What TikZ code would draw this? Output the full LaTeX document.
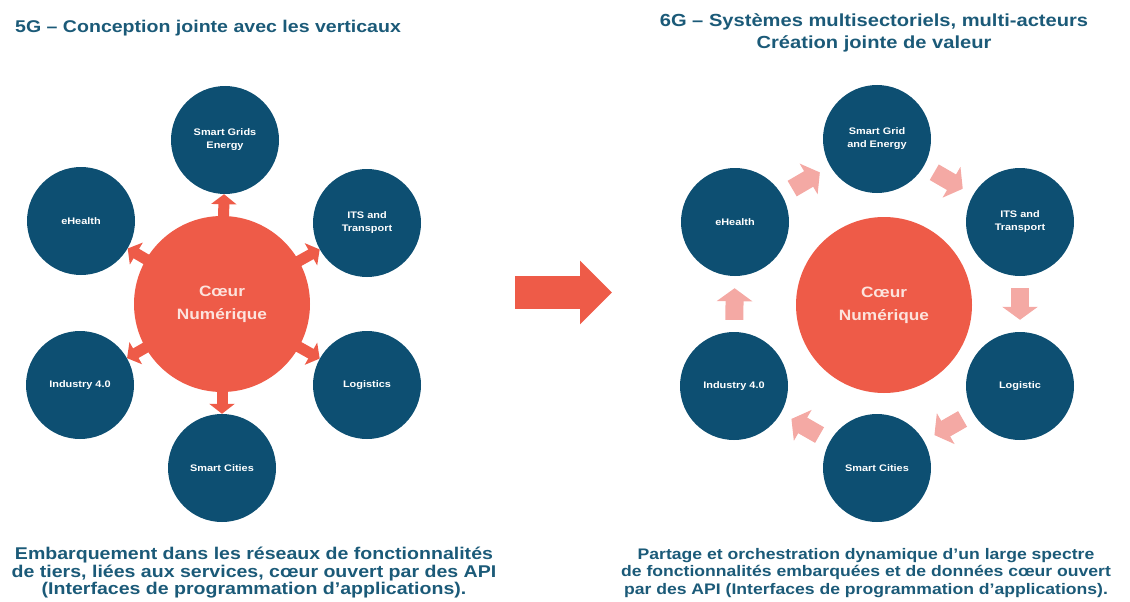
\documentclass[tikz,border=0pt]{standalone}
\usepackage{fontspec}
\setmainfont{Liberation Sans}[FakeStretch=1.15]
\usetikzlibrary{arrows.meta}
\pgfdeclarelayer{bg}
\pgfsetlayers{bg,main}
\definecolor{navy}{HTML}{0D4F72}
\definecolor{coral}{HTML}{EE5B48}
\definecolor{pinkar}{HTML}{F4A9A4}
\definecolor{titleblue}{HTML}{1B5A78}
\definecolor{coretext}{HTML}{FCE3DD}
\tikzset{
  core/.style={circle, fill=coral, minimum size=176pt, inner sep=0pt, text=coretext, align=center,
    font=\bfseries\fontsize{15}{23}\selectfont},
  sat/.style={circle, fill=navy, minimum size=108pt, inner sep=0pt, text=white, align=center,
    font=\bfseries\fontsize{9.5}{13}\selectfont},
  outarrow/.style={draw=coral, line width=11pt, -{Triangle[width=25pt,length=10pt]}, shorten <=-8pt},
  cyc/.style={draw=pinkar, line width=18pt, -{Triangle[width=35pt,length=13pt]}, shorten <=12pt, shorten >=12pt},
  bigarrow/.style={draw=coral, line width=33pt, -{Triangle[width=62pt,length=32pt]}},
  title/.style={text=titleblue, inner sep=0pt, font=\bfseries\fontsize{17.5}{22}\selectfont},
  bottomtext/.style={text=titleblue, inner sep=0pt, align=center, font=\bfseries\fontsize{17}{17.5}\selectfont}
}
\begin{document}
\begin{tikzpicture}[x=1pt,y=-1pt]
\useasboundingbox (0,0) rectangle (1130,602);

% titles
\node[title, anchor=west, font=\bfseries\fontsize{17}{22}\selectfont] (t1) at (15,28) {5G – Conception jointe avec les verticaux};
\node[title, align=center] (t2) at (874,33) {6G – Systèmes multisectoriels, multi-acteurs\\Création jointe de valeur};

% left diagram
\node[core] (L) at (222,304) {Cœur\\Numérique};
\node[sat] (Lsg) at (225,140) {Smart Grids\\Energy};
\node[sat] (Leh) at (81,221) {eHealth};
\node[sat] (Lits) at (367,223) {ITS and\\Transport};
\node[sat] (Lind) at (80,385) {Industry 4.0};
\node[sat] (Llog) at (367,385) {Logistics};
\node[sat] (Lsc) at (222,468) {Smart Cities};
\begin{pgfonlayer}{bg}
\draw[outarrow] (L) -- (Lsg);
\draw[outarrow] (L) -- (Leh);
\draw[outarrow] (L) -- (Lits);
\draw[outarrow] (L) -- (Lind);
\draw[outarrow] (L) -- (Llog);
\draw[outarrow] (L) -- (Lsc);
\end{pgfonlayer}

% big arrow
\coordinate (ba) at (515,292.5);
\coordinate (bb) at (612,292.5);
\draw[bigarrow] (ba) -- (bb);

% right diagram
\node[core] (R) at (884,305) {Cœur\\Numérique};
\node[sat] (Rsg) at (877,139) {Smart Grid\\and Energy};
\node[sat] (Reh) at (735,222) {eHealth};
\node[sat] (Rits) at (1020,222) {ITS and\\Transport};
\node[sat] (Rlog) at (1020,386) {Logistic};
\node[sat] (Rsc) at (877,468) {Smart Cities};
\node[sat] (Rind) at (734,386) {Industry 4.0};
\draw[cyc] (Reh) -- (Rsg);
\draw[cyc] (Rsg) -- (Rits);
\draw[cyc] (Rits) -- (Rlog);
\draw[cyc] (Rlog) -- (Rsc);
\draw[cyc] (Rsc) -- (Rind);
\draw[cyc] (Rind) -- (Reh);

% bottom texts
\node[bottomtext] (b1) at (254,573) {Embarquement dans les réseaux de fonctionnalités\\de tiers, liées aux services, cœur ouvert par des API\\(Interfaces de programmation d’applications).};
\node[bottomtext, font=\bfseries\fontsize{15.3}{17.5}\selectfont] (b2) at (866,573) {Partage et orchestration dynamique d'un large spectre\\de fonctionnalités embarquées et de données cœur ouvert\\par des API (Interfaces de programmation d'applications).};
\end{tikzpicture}
\end{document}
